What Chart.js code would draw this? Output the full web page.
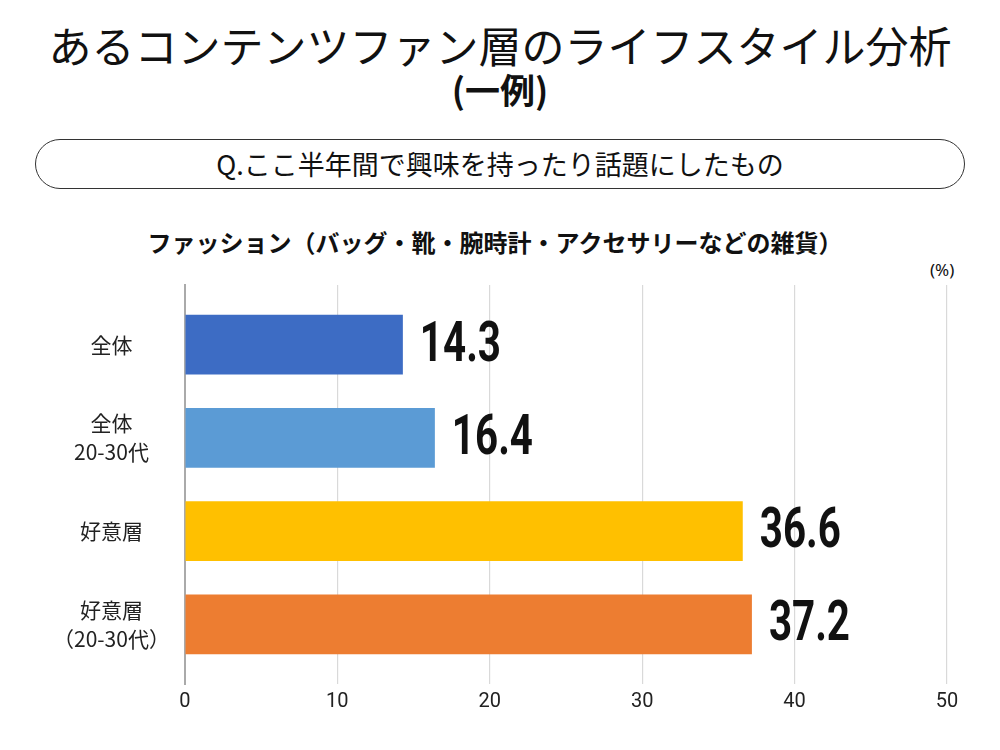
<!DOCTYPE html>
<html lang="ja">
<head>
<meta charset="utf-8">
<script src="https://cdn.jsdelivr.net/npm/chart.js@4"></script>
<style>
  html, body { margin: 0; padding: 0; background: #fff; }
  body { width: 1000px; height: 750px; position: relative; overflow: hidden;
         font-family: "Noto Sans CJK JP", "Noto Sans", sans-serif; color: #111; }
  .title { position: absolute; left: 0; width: 1000px; text-align: center; top: 15px;
           font-size: 43px; font-weight: 400; line-height: 58px; }
  .sub { position: absolute; left: 0; width: 1000px; text-align: center; top: 68px;
         font-size: 35px; font-weight: 700; line-height: 42px; }
  .qbox { position: absolute; left: 35px; top: 139px; width: 928px; height: 48px;
          border: 1.5px solid #333; border-radius: 25px; text-align: center;
          font-size: 27px; line-height: 48px; }
  .head { position: absolute; left: 0; width: 990px; text-align: center; top: 226px;
          font-size: 24px; font-weight: 700; line-height: 32px; }
  .unit { position: absolute; left: 930px; top: 258px; font-size: 17px;
          font-family: "Noto Sans", sans-serif; }
  #chart { position: absolute; left: 0; top: 0; }
</style>
</head>
<body>
<div class="title">あるコンテンツファン層のライフスタイル分析</div>
<div class="sub">(一例)</div>
<div class="qbox">Q.ここ半年間で興味を持ったり話題にしたもの</div>
<div class="head">ファッション（バッグ・靴・腕時計・アクセサリーなどの雑貨）</div>
<div class="unit">(%)</div>
<canvas id="chart" width="1000" height="750"></canvas>
<script>
'use strict';

// Categories (multi-line labels) and their values in %.
const categories = [
  ['全体'],
  ['全体', '20-30代'],
  ['好意層'],
  ['好意層', '（20-30代）']
];
const values = [14.3, 16.4, 36.6, 37.2];
const barColors = ['#3D6CC4', '#5B9BD5', '#FFC000', '#ED7D31'];
const xTicks = [0, 10, 20, 30, 40, 50];

// Bars sit on a linear index axis so the bands can be spaced like the original.
const points = values.map((v, i) => ({ x: v, y: i }));

// Draws the value next to the end of each bar, in a narrow bold face.
const valueLabels = {
  id: 'valueLabels',
  afterDatasetsDraw(chart) {
    const ctx = chart.ctx;
    const meta = chart.getDatasetMeta(0);
    ctx.save();
    ctx.fillStyle = '#111';
    ctx.font = 'bold 56px Roboto';
    ctx.textBaseline = 'middle';
    meta.data.forEach((bar, i) => {
      ctx.save();
      ctx.translate(bar.x + 17, bar.y + 2);
      ctx.scale(0.72, 1);
      ctx.fillText(values[i].toFixed(1), 0, 0);
      ctx.restore();
    });
    ctx.restore();
  }
};

const chartEl = document.querySelector('#chart');

new Chart(chartEl, {
  type: 'bar',
  data: {
    datasets: [{
      data: points,
      backgroundColor: barColors,
      borderWidth: 0,
      barPercentage: 0.64,
      categoryPercentage: 1
    }]
  },
  options: {
    indexAxis: 'y',
    responsive: false,
    animation: false,
    layout: { padding: { top: 285, right: 53, left: 46, bottom: 30 } },
    plugins: {
      legend: { display: false },
      tooltip: { enabled: false }
    },
    scales: {
      x: {
        min: 0,
        max: 50,
        afterBuildTicks(axis) { axis.ticks = xTicks.map(v => ({ value: v })); },
        grid: { color: '#d9d9d9', lineWidth: 1.2, drawTicks: false },
        border: { display: false },
        ticks: {
          padding: 6,
          color: '#222',
          font: { family: '"Liberation Sans Narrow", Roboto', size: 20 }
        }
      },
      y: {
        type: 'linear',
        offset: false,
        min: -0.64,
        max: 3.64,
        reverse: true,
        afterBuildTicks(axis) { axis.ticks = categories.map((c, i) => ({ value: i })); },
        grid: { display: false },
        border: { display: true, color: '#aaaaaa', width: 2 },
        ticks: {
          padding: 7,
          color: '#222',
          crossAlign: 'center',
          font: { family: 'Noto Sans CJK JP', size: 21, lineHeight: 1.38 },
          callback: (v) => categories[v]
        }
      }
    }
  },
  plugins: [valueLabels]
});
</script>
</body>
</html>
